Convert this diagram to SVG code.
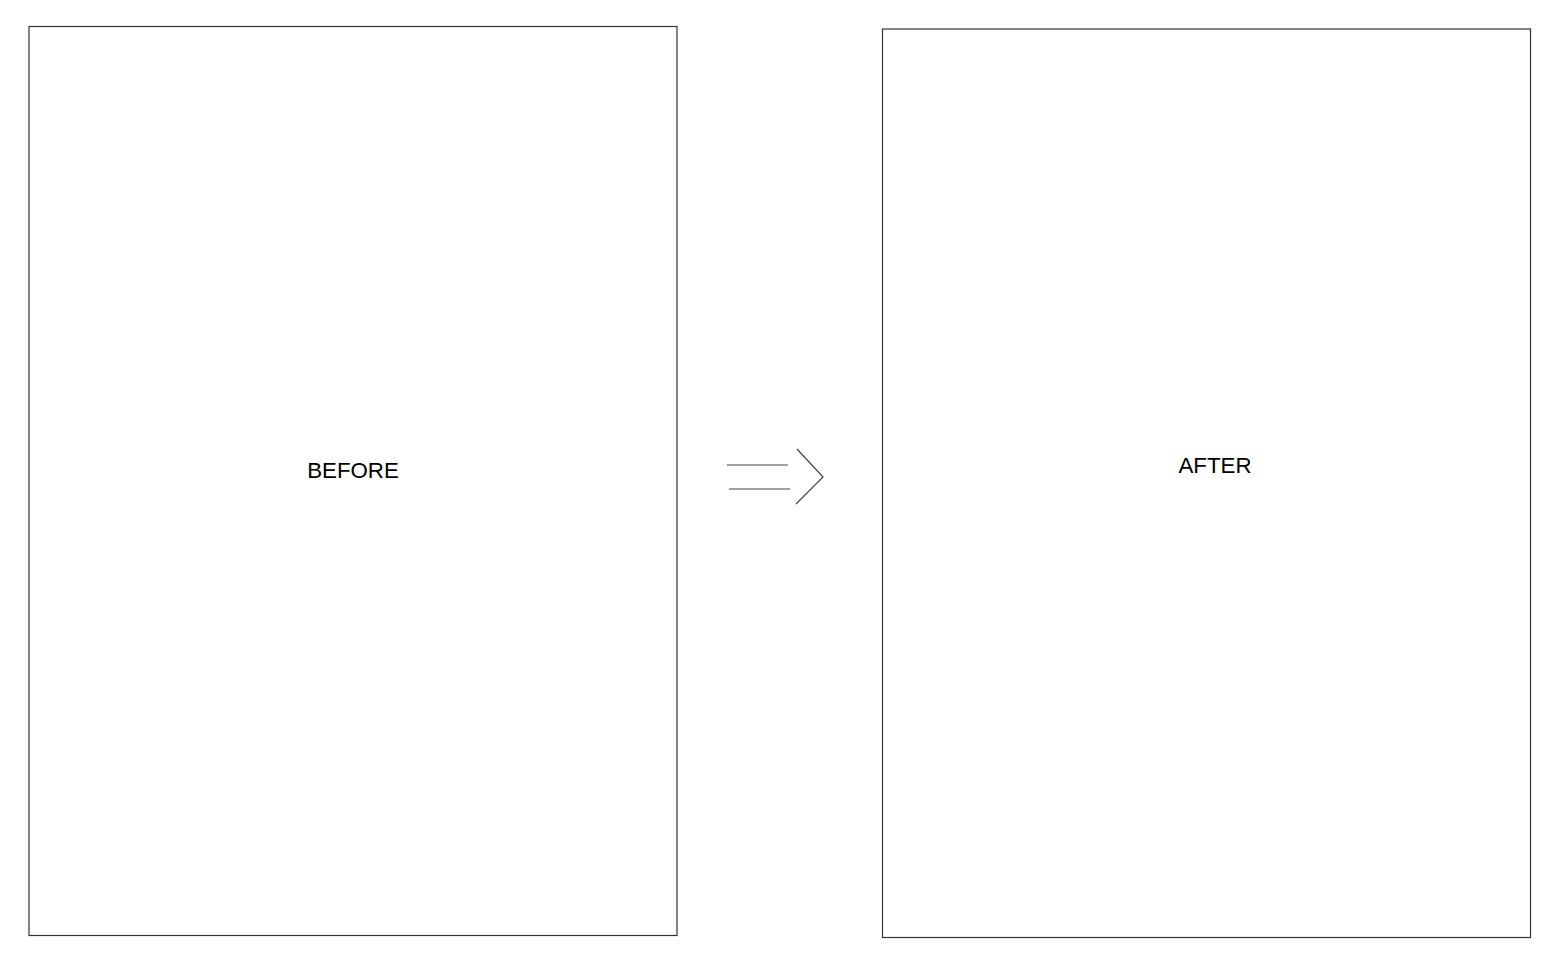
<svg xmlns="http://www.w3.org/2000/svg" width="1560" height="964" viewBox="0 0 1560 964">
<style>
.box{fill:#fff;stroke:#333;stroke-width:1.2}
.lbl{font-family:"Liberation Sans",Arial,sans-serif;font-size:22.3px;fill:#000;text-anchor:middle}
.ln{fill:none;stroke:#444;stroke-width:1.2}
</style>
<rect width="1560" height="964" fill="#fff"/>
<g id="before">
<rect class="box" x="29" y="26.5" width="648" height="909"/>
<text class="lbl" x="353" y="478">BEFORE</text>
</g>
<g id="after">
<rect class="box" x="882.5" y="29" width="648" height="908.5"/>
<text class="lbl" x="1215" y="473">AFTER</text>
</g>
<g id="connectors">
<line class="ln" x1="727" y1="465" x2="788" y2="465"/>
<line class="ln" x1="729" y1="489" x2="790" y2="489"/>
<polyline class="ln" points="797,449 823,477 796,504"/>
</g>
</svg>
